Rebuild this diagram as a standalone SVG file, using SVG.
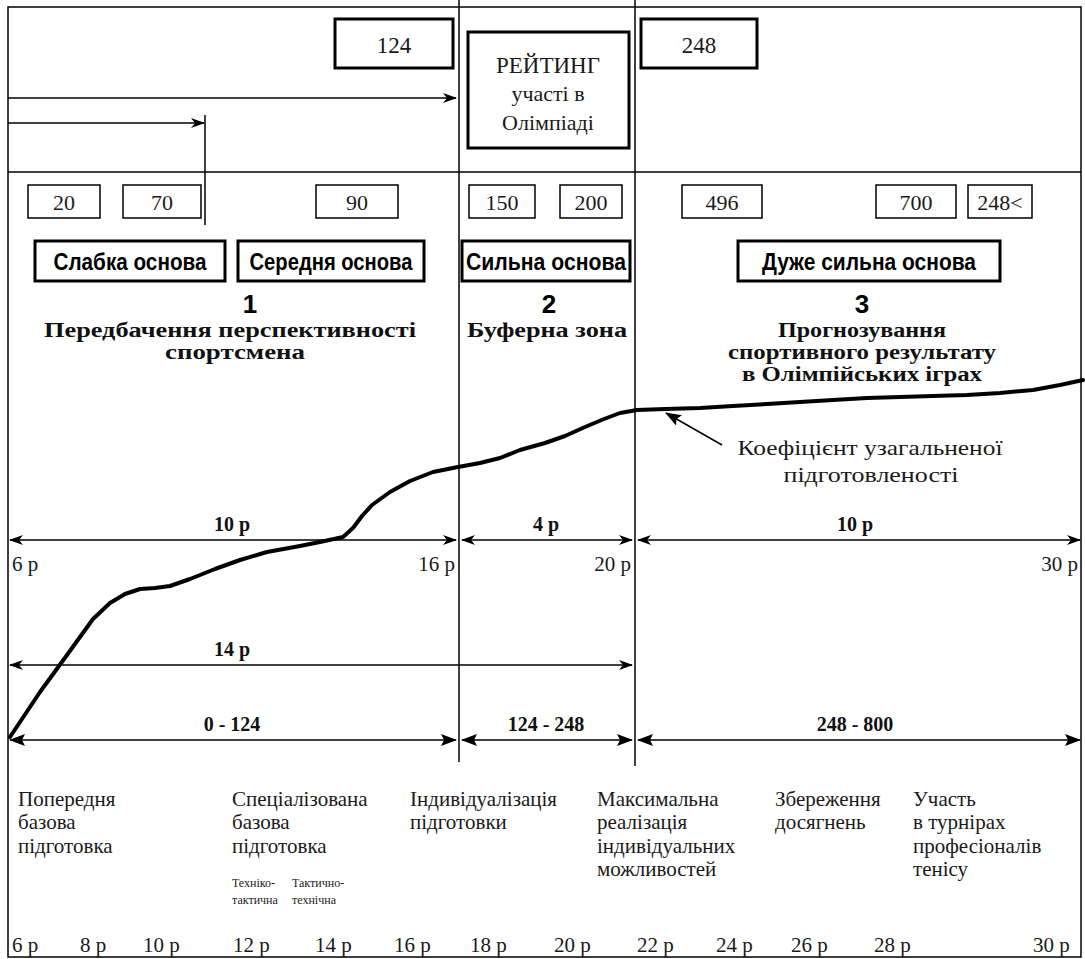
<svg xmlns="http://www.w3.org/2000/svg" width="1085" height="959" viewBox="0 0 1085 959">
<style>
.ln{stroke:#000;stroke-width:1.5;fill:none}
.thin{fill:#fff;stroke:#000;stroke-width:1.5}
.thick{fill:#fff;stroke:#000;stroke-width:3}
.sr{font-family:"Liberation Serif","Times New Roman",serif;fill:#1a1a1a}
.sb{font-family:"Liberation Serif","Times New Roman",serif;font-weight:bold;fill:#111}
.ss{font-family:"Liberation Sans",Arial,sans-serif;font-weight:bold;fill:#000}
.c{text-anchor:middle}
.e{text-anchor:end}
</style>
<defs>
<marker id="ah" viewBox="0 0 14 10" refX="13" refY="5" markerWidth="14" markerHeight="10" markerUnits="userSpaceOnUse" orient="auto-start-reverse">
<path d="M0,0 L14,5 L0,10 L4,5 z" fill="#000"/>
</marker>
<marker id="ahb" viewBox="0 0 16 12" refX="15" refY="6" markerWidth="16" markerHeight="12" markerUnits="userSpaceOnUse" orient="auto-start-reverse">
<path d="M0,0 L16,6 L0,12 L3,6 z" fill="#000"/>
</marker>
</defs>
<rect width="1085" height="959" fill="#fff"/>

<g id="frame">
<rect x="8" y="7" width="1073" height="950" class="ln"/>
<line x1="8" y1="172" x2="1081" y2="172" class="ln"/>
<line x1="459" y1="0" x2="459" y2="762" class="ln"/>
<line x1="635" y1="0" x2="635" y2="766" class="ln"/>
<line x1="205" y1="115" x2="205" y2="225" class="ln" stroke-width="2"/>
</g>

<g id="connectors">
<line x1="8" y1="98" x2="456" y2="98" class="ln" marker-end="url(#ah)"/>
<line x1="8" y1="123" x2="204" y2="123" class="ln" marker-end="url(#ah)"/>
<line x1="10" y1="540" x2="456" y2="540" class="ln" stroke-width="2" marker-start="url(#ah)" marker-end="url(#ah)"/>
<line x1="462" y1="540" x2="632" y2="540" class="ln" stroke-width="2" marker-start="url(#ah)" marker-end="url(#ah)"/>
<line x1="638" y1="540" x2="1080" y2="540" class="ln" stroke-width="2" marker-start="url(#ah)" marker-end="url(#ah)"/>
<line x1="10" y1="665" x2="632" y2="665" class="ln" marker-start="url(#ah)" marker-end="url(#ah)"/>
<line x1="10" y1="740" x2="456" y2="740" class="ln" stroke-width="2.5" marker-start="url(#ahb)" marker-end="url(#ahb)"/>
<line x1="462" y1="740" x2="632" y2="740" class="ln" stroke-width="2.5" marker-start="url(#ahb)" marker-end="url(#ahb)"/>
<line x1="638" y1="740" x2="1080" y2="740" class="ln" stroke-width="2.5" marker-start="url(#ahb)" marker-end="url(#ahb)"/>
<line x1="722" y1="445" x2="666" y2="413" class="ln" stroke-width="2" marker-end="url(#ahb)"/>
<polyline id="curve" fill="none" stroke="#000" stroke-width="4" stroke-linejoin="round" stroke-linecap="round" points="10,737 40,692 67,655 93,619 110,603 125,594 140,589 155,588 170,586 190,579 215,569 240,560 267,552 300,546 320,542 343,537 353,528 362,516 372,505 390,492 410,481 433,472 458,467 480,463 500,458 520,450 545,443 565,436 585,427 604,419 620,413 637,410 665,409 700,408 733,406 767,404 800,402 833,400 867,398 900,397 933,396 967,395 1000,393 1033,390 1060,385 1083,380"/>
</g>

<g id="box124"><rect x="335" y="19" width="118" height="49" class="thick"/><text x="394" y="53" class="sr c" font-size="23">124</text></g>
<g id="rating"><rect x="468" y="32" width="161" height="116" class="thick"/>
<text x="548" y="73" class="sr c" font-size="23">РЕЙТИНГ</text>
<text x="548" y="101" class="sr c" font-size="22">участі в</text>
<text x="548" y="130" class="sr c" font-size="22">Олімпіаді</text></g>
<g id="box248"><rect x="641" y="19" width="116" height="49" class="thick"/><text x="699" y="53" class="sr c" font-size="23">248</text></g>

<g id="n20"><rect x="28" y="185" width="72" height="33" class="thin"/><text x="64" y="210" class="sr c" font-size="22">20</text></g>
<g id="n70"><rect x="123" y="185" width="78" height="33" class="thin"/><text x="162" y="210" class="sr c" font-size="22">70</text></g>
<g id="n90"><rect x="316" y="185" width="82" height="33" class="thin"/><text x="357" y="210" class="sr c" font-size="22">90</text></g>
<g id="n150"><rect x="469" y="185" width="66" height="33" class="thin"/><text x="502" y="210" class="sr c" font-size="22">150</text></g>
<g id="n200"><rect x="560" y="185" width="62" height="33" class="thin"/><text x="591" y="210" class="sr c" font-size="22">200</text></g>
<g id="n496"><rect x="682" y="185" width="80" height="33" class="thin"/><text x="722" y="210" class="sr c" font-size="22">496</text></g>
<g id="n700"><rect x="876" y="185" width="80" height="33" class="thin"/><text x="916" y="210" class="sr c" font-size="22">700</text></g>
<g id="n248lt"><rect x="968" y="185" width="64" height="33" class="thin"/><text x="1000" y="210" class="sr c" font-size="22">248&lt;</text></g>

<g id="weak"><rect x="35" y="241" width="190" height="40" class="thick"/><text x="130" y="270" class="ss c" font-size="23" textLength="153" lengthAdjust="spacingAndGlyphs">Слабка основа</text></g>
<g id="medium"><rect x="238" y="241" width="186" height="40" class="thick"/><text x="331" y="270" class="ss c" font-size="23" textLength="163" lengthAdjust="spacingAndGlyphs">Середня основа</text></g>
<g id="strong"><rect x="462" y="241" width="168" height="40" class="thick"/><text x="546" y="270" class="ss c" font-size="23" textLength="160" lengthAdjust="spacingAndGlyphs">Сильна основа</text></g>
<g id="vstrong"><rect x="738" y="241" width="262" height="40" class="thick"/><text x="869" y="270" class="ss c" font-size="23" textLength="214" lengthAdjust="spacingAndGlyphs">Дуже сильна основа</text></g>

<g id="zone1">
<text x="250" y="313" class="ss c" font-size="26">1</text>
<text x="230" y="337" class="sb c" font-size="20" textLength="372" lengthAdjust="spacingAndGlyphs">Передбачення перспективності</text>
<text x="235" y="359" class="sb c" font-size="20" textLength="140" lengthAdjust="spacingAndGlyphs">спортсмена</text>
</g>
<g id="zone2">
<text x="549" y="313" class="ss c" font-size="26">2</text>
<text x="547" y="337" class="sb c" font-size="20" textLength="160" lengthAdjust="spacingAndGlyphs">Буферна зона</text>
</g>
<g id="zone3">
<text x="862" y="337" class="sb c" font-size="20" textLength="168" lengthAdjust="spacingAndGlyphs">Прогнозування</text>
<text x="862" y="313" class="ss c" font-size="26">3</text>
<text x="862" y="359" class="sb c" font-size="20" textLength="268" lengthAdjust="spacingAndGlyphs">спортивного результату</text>
<text x="862" y="381" class="sb c" font-size="20" textLength="240" lengthAdjust="spacingAndGlyphs">в Олімпійських іграх</text>
</g>

<g id="coef-label">
<text x="870" y="455" class="sr c" font-size="21" textLength="265" lengthAdjust="spacingAndGlyphs">Коефіцієнт узагальненої</text>
<text x="871" y="482" class="sr c" font-size="21" textLength="175" lengthAdjust="spacingAndGlyphs">підготовленості</text>
</g>

<g id="arrow-labels">
<text x="232" y="531" class="sb c" font-size="20">10 р</text>
<text x="546" y="531" class="sb c" font-size="20">4 р</text>
<text x="855" y="531" class="sb c" font-size="20">10 р</text>
<text x="232" y="656" class="sb c" font-size="20">14 р</text>
<text x="232" y="731" class="sb c" font-size="20">0 - 124</text>
<text x="546" y="731" class="sb c" font-size="20">124 - 248</text>
<text x="855" y="731" class="sb c" font-size="20">248 - 800</text>
<text x="12" y="571" class="sr" font-size="21">6 р</text>
<text x="455" y="571" class="sr e" font-size="21">16 р</text>
<text x="631" y="571" class="sr e" font-size="21">20 р</text>
<text x="1078" y="571" class="sr e" font-size="21">30 р</text>
</g>

<g id="stages" class="sr" font-size="21">
<text x="18" y="806">Попередня</text>
<text x="18" y="829">базова</text>
<text x="18" y="853">підготовка</text>
<text x="232" y="806">Спеціалізована</text>
<text x="232" y="829">базова</text>
<text x="232" y="853">підготовка</text>
<text x="410" y="806">Індивідуалізація</text>
<text x="410" y="829">підготовки</text>
<text x="597" y="806">Максимальна</text>
<text x="597" y="829">реалізація</text>
<text x="597" y="853">індивідуальних</text>
<text x="597" y="876">можливостей</text>
<text x="775" y="806">Збереження</text>
<text x="775" y="829">досягнень</text>
<text x="913" y="806">Участь</text>
<text x="913" y="829">в турнірах</text>
<text x="913" y="853">професіоналів</text>
<text x="913" y="876">тенісу</text>
<text x="232" y="887" font-size="12">Техніко-</text>
<text x="232" y="904" font-size="12">тактична</text>
<text x="292" y="887" font-size="12">Тактично-</text>
<text x="292" y="904" font-size="12">технічна</text>
</g>

<g id="ages" class="sr" font-size="21">
<text x="12" y="952">6 р</text>
<text x="80" y="952">8 р</text>
<text x="143" y="952">10 р</text>
<text x="233" y="952">12 р</text>
<text x="315" y="952">14 р</text>
<text x="394" y="952">16 р</text>
<text x="470" y="952">18 р</text>
<text x="554" y="952">20 р</text>
<text x="637" y="952">22 р</text>
<text x="716" y="952">24 р</text>
<text x="791" y="952">26 р</text>
<text x="874" y="952">28 р</text>
<text x="1033" y="952">30 р</text>
</g>
</svg>
